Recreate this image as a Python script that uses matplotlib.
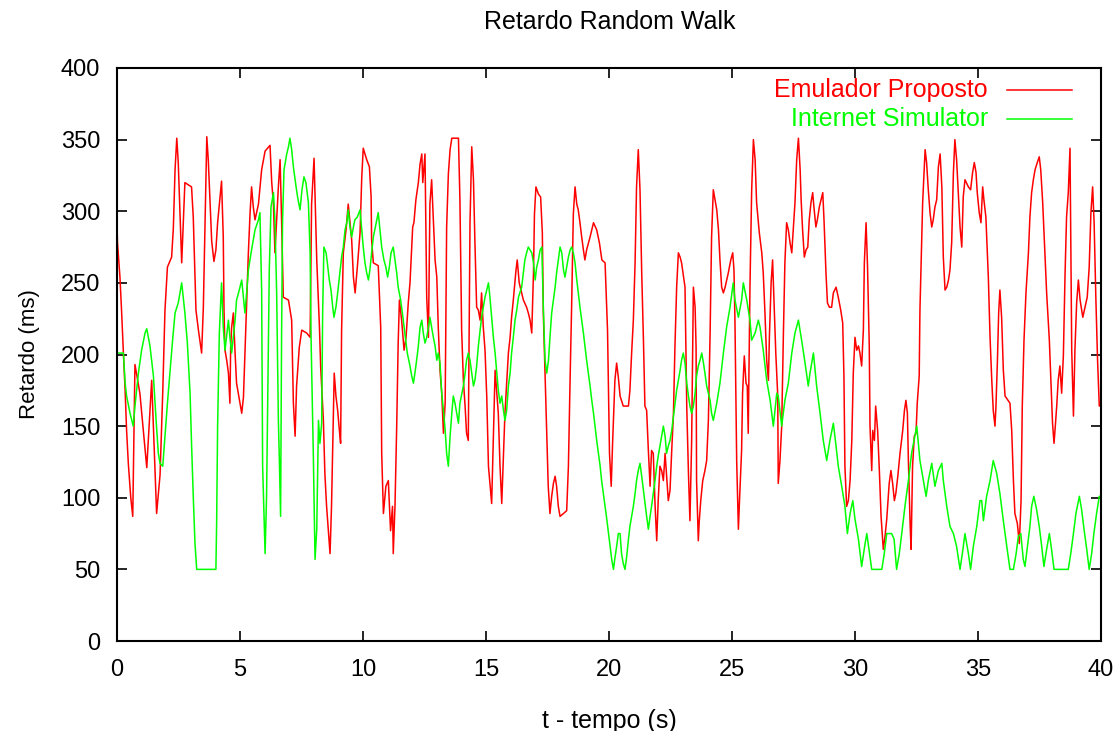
import matplotlib
matplotlib.use("Agg")
import matplotlib.pyplot as plt
from matplotlib import font_manager

# delay samples (t in s, delay in ms) for the proposed emulator
emulador = [
    (0.00, 292), (0.02, 278), (0.12, 254), (0.19, 229), (0.26, 201), (0.33, 175), (0.39, 147), (0.46, 124),
    (0.56, 100), (0.64, 87), (0.73, 193), (0.93, 173), (1.21, 121), (1.41, 182), (1.61, 89), (1.75, 116),
    (1.86, 174), (1.95, 231), (2.05, 261), (2.22, 268), (2.29, 288), (2.36, 329), (2.43, 351), (2.49, 334),
    (2.56, 299), (2.63, 264), (2.76, 320), (3.03, 317), (3.10, 296), (3.21, 231), (3.31, 217), (3.44, 201),
    (3.51, 233), (3.65, 352), (3.71, 336), (3.78, 308), (3.85, 279), (3.94, 265), (4.02, 273), (4.09, 292),
    (4.19, 310), (4.25, 321), (4.32, 282), (4.35, 231), (4.39, 203), (4.46, 196), (4.53, 187), (4.59, 166),
    (4.62, 205), (4.66, 219), (4.73, 229), (4.80, 201), (4.86, 180), (4.93, 173), (5.07, 159), (5.14, 170),
    (5.20, 201), (5.27, 236), (5.34, 271), (5.41, 299), (5.47, 317), (5.54, 303), (5.61, 294), (5.75, 305),
    (5.88, 329), (6.02, 342), (6.22, 346), (6.29, 320), (6.36, 305), (6.42, 271), (6.56, 317), (6.63, 336),
    (6.69, 294), (6.76, 240), (6.97, 238), (7.10, 224), (7.17, 166), (7.24, 143), (7.30, 178), (7.41, 205),
    (7.51, 217), (7.71, 215), (7.85, 212), (7.91, 305), (8.01, 337), (8.05, 312), (8.12, 266), (8.23, 219),
    (8.28, 191), (8.39, 154), (8.45, 117), (8.52, 94), (8.66, 61), (8.72, 94), (8.79, 154), (8.83, 187),
    (8.90, 171), (8.97, 161), (9.04, 147), (9.09, 138), (9.13, 217), (9.20, 271), (9.31, 287), (9.40, 305),
    (9.54, 280), (9.61, 254), (9.68, 243), (9.77, 261), (9.88, 285), (9.95, 324), (10.01, 344), (10.15, 336),
    (10.26, 331), (10.33, 310), (10.35, 280), (10.42, 264), (10.62, 262), (10.72, 219), (10.76, 131), (10.83, 89),
    (10.93, 108), (11.03, 112), (11.12, 77), (11.20, 94), (11.23, 61), (11.30, 94), (11.37, 150), (11.43, 208),
    (11.48, 238), (11.57, 224), (11.67, 203), (11.75, 212), (11.84, 236), (11.91, 250), (12.02, 289), (12.07, 292),
    (12.15, 308), (12.25, 320), (12.32, 333), (12.39, 340), (12.43, 320), (12.52, 340), (12.59, 240), (12.66, 212),
    (12.72, 305), (12.79, 322), (12.86, 294), (12.93, 266), (13.00, 254), (13.06, 219), (13.13, 189), (13.20, 173),
    (13.27, 145), (13.34, 166), (13.40, 289), (13.47, 326), (13.54, 343), (13.61, 351), (13.88, 351), (13.94, 308),
    (14.01, 217), (14.08, 182), (14.15, 164), (14.21, 145), (14.28, 140), (14.35, 292), (14.42, 345), (14.49, 322),
    (14.55, 278), (14.62, 233), (14.69, 231), (14.76, 224), (14.82, 243), (14.89, 219), (14.96, 203), (15.03, 171),
    (15.10, 122), (15.23, 96), (15.37, 189), (15.44, 173), (15.50, 159), (15.57, 122), (15.64, 96), (15.71, 131),
    (15.77, 159), (15.84, 180), (15.91, 201), (15.98, 212), (16.04, 226), (16.11, 238), (16.22, 259), (16.27, 266),
    (16.35, 250), (16.42, 245), (16.52, 238), (16.65, 233), (16.72, 229), (16.79, 224), (16.86, 215), (16.93, 257),
    (16.97, 298), (17.03, 317), (17.13, 312), (17.22, 310), (17.29, 285), (17.33, 229), (17.40, 187), (17.47, 143),
    (17.53, 108), (17.60, 89), (17.67, 101), (17.74, 110), (17.81, 115), (17.87, 108), (17.94, 94), (18.01, 87),
    (18.15, 89), (18.28, 91), (18.35, 122), (18.42, 184), (18.48, 233), (18.55, 298), (18.62, 317), (18.69, 305),
    (18.75, 301), (18.82, 292), (18.89, 282), (18.96, 273), (19.02, 266), (19.09, 273), (19.23, 282), (19.37, 292),
    (19.50, 287), (19.61, 278), (19.71, 266), (19.84, 264), (19.94, 217), (20.02, 131), (20.09, 108), (20.15, 140),
    (20.24, 182), (20.31, 194), (20.38, 184), (20.45, 171), (20.58, 164), (20.79, 164), (20.85, 175), (20.92, 201),
    (20.99, 224), (21.06, 264), (21.12, 317), (21.19, 343), (21.26, 315), (21.33, 257), (21.40, 210), (21.46, 164),
    (21.53, 161), (21.60, 133), (21.67, 108), (21.73, 133), (21.80, 131), (21.87, 96), (21.94, 70), (22.00, 98),
    (22.07, 122), (22.14, 119), (22.21, 112), (22.28, 131), (22.41, 98), (22.48, 105), (22.55, 133), (22.62, 159),
    (22.68, 205), (22.75, 247), (22.82, 271), (22.89, 268), (22.95, 264), (23.09, 247), (23.16, 164), (23.23, 117),
    (23.29, 84), (23.36, 140), (23.43, 247), (23.50, 233), (23.54, 205), (23.56, 112), (23.63, 70), (23.67, 84),
    (23.73, 98), (23.81, 112), (23.90, 119), (23.97, 126), (24.04, 154), (24.11, 215), (24.17, 282), (24.24, 315),
    (24.31, 308), (24.38, 301), (24.45, 287), (24.51, 266), (24.58, 247), (24.65, 243), (24.72, 247), (24.85, 257),
    (24.95, 266), (25.03, 271), (25.08, 259), (25.12, 224), (25.19, 126), (25.26, 78), (25.30, 96), (25.39, 133),
    (25.43, 173), (25.50, 199), (25.57, 180), (25.62, 178), (25.66, 145), (25.73, 247), (25.80, 315), (25.87, 350),
    (25.94, 336), (26.00, 306), (26.11, 285), (26.21, 271), (26.27, 257), (26.34, 229), (26.41, 196), (26.48, 182),
    (26.52, 212), (26.59, 250), (26.65, 266), (26.71, 236), (26.78, 201), (26.86, 171), (26.88, 110), (26.95, 126),
    (27.02, 150), (27.09, 215), (27.15, 264), (27.22, 292), (27.29, 287), (27.36, 278), (27.43, 271), (27.49, 287),
    (27.56, 306), (27.63, 336), (27.70, 351), (27.77, 329), (27.81, 308), (27.87, 287), (27.94, 268), (28.01, 273),
    (28.08, 275), (28.14, 294), (28.21, 306), (28.28, 313), (28.33, 303), (28.41, 289), (28.47, 294), (28.55, 303),
    (28.62, 308), (28.69, 313), (28.74, 294), (28.82, 257), (28.88, 236), (28.96, 233), (29.05, 233), (29.12, 243),
    (29.23, 247), (29.32, 240), (29.42, 231), (29.50, 222), (29.55, 185), (29.59, 122), (29.66, 94), (29.73, 98),
    (29.80, 112), (29.87, 140), (29.93, 187), (30.00, 212), (30.07, 203), (30.14, 206), (30.20, 201), (30.27, 192),
    (30.34, 217), (30.38, 264), (30.45, 292), (30.51, 261), (30.58, 206), (30.61, 150), (30.68, 119), (30.72, 147),
    (30.79, 140), (30.84, 164), (30.92, 147), (30.99, 119), (31.06, 87), (31.15, 64), (31.22, 73), (31.29, 85),
    (31.39, 110), (31.46, 119), (31.53, 110), (31.60, 98), (31.66, 103), (31.74, 115), (31.83, 131), (31.94, 147),
    (32.01, 161), (32.07, 168), (32.13, 159), (32.17, 126), (32.24, 82), (32.28, 64), (32.34, 122), (32.41, 143),
    (32.48, 145), (32.53, 166), (32.61, 185), (32.64, 231), (32.75, 306), (32.85, 343), (32.91, 334), (32.98, 315),
    (33.05, 299), (33.12, 289), (33.18, 294), (33.25, 303), (33.32, 308), (33.39, 331), (33.46, 340), (33.53, 317),
    (33.59, 268), (33.66, 245), (33.73, 247), (33.80, 252), (33.86, 259), (33.93, 278), (34.00, 327), (34.06, 350),
    (34.13, 336), (34.20, 313), (34.27, 289), (34.34, 275), (34.40, 310), (34.47, 322), (34.61, 317), (34.70, 315),
    (34.78, 327), (34.85, 334), (34.92, 327), (34.97, 313), (35.05, 299), (35.12, 292), (35.19, 317), (35.24, 308),
    (35.32, 296), (35.42, 254), (35.49, 212), (35.56, 182), (35.62, 161), (35.69, 150), (35.73, 164), (35.79, 196),
    (35.84, 229), (35.89, 245), (35.96, 226), (36.03, 189), (36.10, 171), (36.30, 166), (36.37, 147), (36.44, 112),
    (36.50, 89), (36.60, 82), (36.68, 68), (36.75, 98), (36.80, 164), (36.87, 210), (36.95, 243), (37.05, 271),
    (37.11, 296), (37.18, 313), (37.25, 322), (37.32, 329), (37.41, 334), (37.49, 338), (37.55, 329), (37.63, 306),
    (37.70, 278), (37.79, 243), (37.90, 210), (37.97, 178), (38.03, 152), (38.09, 138), (38.13, 147), (38.20, 164),
    (38.26, 182), (38.33, 192), (38.40, 173), (38.47, 199), (38.54, 257), (38.60, 296), (38.67, 313), (38.74, 344),
    (38.81, 203), (38.88, 157), (38.94, 203), (39.01, 236), (39.08, 252), (39.15, 238), (39.26, 226), (39.35, 233),
    (39.44, 240), (39.52, 261), (39.59, 299), (39.66, 317), (39.72, 292), (39.79, 240), (39.86, 196), (39.93, 164),
    (40.00, 165),
]

# delay samples for the Internet Simulator
simulador = [
    (0.00, 201), (0.26, 201), (0.33, 180), (0.39, 171), (0.53, 159), (0.66, 150), (0.73, 164), (0.87, 187),
    (1.00, 203), (1.14, 215), (1.21, 218), (1.34, 206), (1.48, 185), (1.59, 154), (1.68, 131), (1.75, 124),
    (1.86, 122), (1.95, 143), (2.05, 166), (2.15, 187), (2.26, 210), (2.36, 229), (2.49, 236), (2.63, 250),
    (2.76, 229), (2.86, 208), (2.97, 173), (3.03, 138), (3.10, 101), (3.17, 68), (3.24, 50), (4.02, 50),
    (4.05, 82), (4.09, 150), (4.16, 215), (4.25, 250), (4.32, 219), (4.39, 203), (4.53, 224), (4.59, 212),
    (4.66, 201), (4.80, 224), (4.86, 238), (4.97, 245), (5.07, 252), (5.20, 229), (5.27, 243), (5.34, 259),
    (5.47, 273), (5.61, 287), (5.75, 294), (5.81, 299), (5.88, 245), (5.92, 122), (6.02, 61), (6.08, 101),
    (6.15, 201), (6.19, 259), (6.26, 303), (6.36, 313), (6.42, 294), (6.49, 243), (6.56, 154), (6.60, 126),
    (6.65, 87), (6.69, 212), (6.73, 294), (6.79, 329), (6.90, 340), (6.97, 345), (7.03, 351), (7.10, 343),
    (7.17, 331), (7.28, 317), (7.34, 310), (7.44, 301), (7.52, 315), (7.60, 324), (7.68, 320), (7.78, 306),
    (7.85, 271), (7.89, 210), (7.98, 131), (8.05, 57), (8.12, 78), (8.19, 154), (8.25, 138), (8.32, 152),
    (8.36, 229), (8.41, 275), (8.50, 271), (8.55, 264), (8.63, 252), (8.70, 245), (8.77, 233), (8.82, 226),
    (8.90, 233), (8.97, 243), (9.04, 254), (9.13, 268), (9.20, 275), (9.27, 287), (9.34, 292), (9.40, 301),
    (9.47, 289), (9.54, 282), (9.61, 289), (9.67, 294), (9.77, 296), (9.88, 301), (9.95, 287), (10.01, 275),
    (10.08, 264), (10.15, 257), (10.22, 252), (10.28, 259), (10.35, 271), (10.42, 282), (10.56, 294), (10.62, 299),
    (10.69, 287), (10.76, 275), (10.85, 266), (10.93, 261), (11.00, 254), (11.07, 261), (11.14, 271), (11.23, 275),
    (11.30, 266), (11.37, 257), (11.43, 247), (11.53, 238), (11.60, 229), (11.67, 219), (11.73, 210), (11.80, 201),
    (11.91, 192), (11.98, 185), (12.05, 180), (12.11, 187), (12.18, 196), (12.25, 206), (12.32, 219), (12.39, 224),
    (12.45, 215), (12.52, 208), (12.59, 212), (12.66, 219), (12.72, 226), (12.79, 219), (12.86, 212), (12.93, 206),
    (13.00, 196), (13.06, 201), (13.13, 194), (13.20, 173), (13.27, 161), (13.34, 147), (13.40, 131), (13.47, 122),
    (13.54, 143), (13.61, 159), (13.67, 171), (13.74, 166), (13.81, 159), (13.88, 152), (13.94, 166), (14.08, 178),
    (14.15, 187), (14.21, 196), (14.28, 201), (14.35, 196), (14.42, 187), (14.49, 178), (14.55, 182), (14.62, 192),
    (14.69, 206), (14.76, 217), (14.82, 226), (14.89, 233), (14.96, 240), (15.03, 245), (15.10, 250), (15.16, 240),
    (15.23, 226), (15.30, 212), (15.37, 201), (15.44, 187), (15.50, 175), (15.57, 166), (15.64, 171), (15.71, 161),
    (15.77, 154), (15.84, 161), (15.91, 178), (15.98, 187), (16.04, 201), (16.11, 212), (16.18, 224), (16.25, 231),
    (16.32, 240), (16.45, 247), (16.52, 257), (16.58, 266), (16.65, 271), (16.72, 275), (16.86, 271), (16.93, 264),
    (17.00, 252), (17.06, 261), (17.13, 266), (17.20, 273), (17.27, 275), (17.33, 233), (17.40, 196), (17.47, 187),
    (17.54, 196), (17.60, 212), (17.67, 229), (17.74, 238), (17.81, 247), (17.87, 257), (17.94, 266), (18.01, 275),
    (18.08, 271), (18.15, 259), (18.21, 254), (18.28, 261), (18.35, 268), (18.42, 273), (18.48, 275), (18.55, 271),
    (18.62, 264), (18.69, 252), (18.75, 243), (18.82, 233), (18.89, 224), (18.96, 215), (19.02, 206), (19.09, 196),
    (19.16, 187), (19.23, 178), (19.30, 168), (19.37, 159), (19.43, 150), (19.50, 140), (19.57, 131), (19.64, 122),
    (19.70, 112), (19.77, 103), (19.84, 94), (19.91, 85), (19.98, 75), (20.04, 66), (20.11, 57), (20.18, 50),
    (20.25, 59), (20.31, 66), (20.38, 75), (20.45, 75), (20.51, 61), (20.58, 54), (20.65, 50), (20.72, 59),
    (20.79, 71), (20.85, 80), (20.92, 87), (20.99, 94), (21.06, 103), (21.12, 112), (21.19, 119), (21.26, 124),
    (21.33, 115), (21.40, 105), (21.46, 96), (21.53, 87), (21.60, 78), (21.67, 87), (21.73, 94), (21.80, 103),
    (21.87, 112), (21.94, 122), (22.00, 129), (22.07, 136), (22.14, 143), (22.21, 150), (22.28, 143), (22.34, 131),
    (22.41, 136), (22.48, 140), (22.55, 147), (22.62, 157), (22.68, 166), (22.75, 175), (22.82, 182), (22.89, 189),
    (22.95, 196), (23.02, 201), (23.09, 194), (23.16, 180), (23.23, 171), (23.29, 164), (23.36, 159), (23.43, 164),
    (23.50, 173), (23.56, 185), (23.63, 192), (23.70, 196), (23.77, 201), (23.84, 194), (23.90, 187), (23.97, 178),
    (24.04, 173), (24.11, 168), (24.17, 159), (24.24, 154), (24.38, 166), (24.51, 180), (24.65, 201), (24.78, 219),
    (24.92, 233), (25.05, 250), (25.12, 238), (25.26, 226), (25.39, 238), (25.46, 250), (25.60, 238), (25.73, 224),
    (25.80, 210), (25.94, 215), (26.07, 224), (26.14, 219), (26.27, 203), (26.41, 182), (26.55, 168), (26.68, 150),
    (26.82, 173), (26.88, 171), (27.02, 150), (27.15, 168), (27.29, 180), (27.43, 201), (27.56, 215), (27.70, 224),
    (27.83, 210), (27.97, 194), (28.10, 178), (28.17, 187), (28.31, 201), (28.44, 178), (28.58, 159), (28.71, 140),
    (28.85, 126), (28.98, 140), (29.12, 152), (29.23, 136), (29.32, 122), (29.46, 108), (29.59, 94), (29.69, 75),
    (29.80, 89), (29.91, 98), (30.00, 85), (30.14, 71), (30.27, 52), (30.41, 68), (30.48, 75), (30.59, 61),
    (30.68, 50), (31.09, 50), (31.19, 61), (31.29, 75), (31.49, 75), (31.59, 71), (31.69, 50), (31.80, 61),
    (31.90, 75), (32.03, 94), (32.17, 112), (32.30, 131), (32.51, 150), (32.64, 126), (32.78, 112), (32.89, 101),
    (32.98, 112), (33.12, 124), (33.25, 108), (33.39, 119), (33.53, 124), (33.59, 112), (33.73, 94), (33.86, 80),
    (34.00, 75), (34.13, 66), (34.27, 50), (34.38, 63), (34.47, 75), (34.61, 61), (34.70, 50), (34.81, 66),
    (34.95, 80), (35.08, 98), (35.15, 98), (35.22, 84), (35.35, 101), (35.49, 112), (35.62, 126), (35.76, 117),
    (35.89, 103), (36.03, 84), (36.17, 66), (36.30, 50), (36.44, 50), (36.55, 61), (36.64, 73), (36.74, 75),
    (36.84, 57), (36.91, 52), (37.01, 66), (37.11, 80), (37.18, 94), (37.27, 101), (37.38, 92), (37.49, 80),
    (37.59, 66), (37.68, 52), (37.79, 64), (37.90, 75), (37.99, 64), (38.09, 50), (38.67, 50), (38.77, 61),
    (38.88, 75), (38.98, 89), (39.12, 101), (39.21, 92), (39.31, 78), (39.42, 64), (39.52, 50), (39.62, 61),
    (39.71, 75), (39.82, 89), (39.93, 101), (40.00, 101),
]

labels = ["Emulador Proposto", "Internet Simulator"]
colors = ["#ff0000", "#00ff00"]
xticks = [0, 5, 10, 15, 20, 25, 30, 35, 40]
yticks = [0, 50, 100, 150, 200, 250, 300, 350, 400]

installed = {f.name for f in font_manager.fontManager.ttflist}
family = "Liberation Sans Narrow" if "Liberation Sans Narrow" in installed else "Liberation Sans"
plt.rcParams["font.family"] = [family, "DejaVu Sans"]

fig = plt.figure(figsize=(11.19, 7.31), dpi=100)
ax = fig.add_axes([117 / 1119, 90 / 731, 984 / 1119, 573 / 731])

for data, lab, col in zip([emulador, simulador], labels, colors):
    t, v = zip(*data)
    ax.plot(t, v, color=col, lw=1.1, label=lab)

ax.set_xlim(0, 40)
ax.set_ylim(0, 400)
ax.set_xticks(xticks)
ax.set_yticks(yticks)
ax.tick_params(direction="in", top=True, right=True, length=7, width=1.2,
               labelsize=17)
ax.tick_params(axis="x", pad=13)
ax.tick_params(axis="y", pad=12)
for s in ax.spines.values():
    s.set_linewidth(1.5)

ax.set_xlabel("t - tempo (s)", fontsize=18, labelpad=20)
ax.set_ylabel("Retardo (ms)", fontsize=16, labelpad=15)
fig.text(610 / 1119, 1 - 22 / 731, "Retardo Random Walk", ha="center", va="center",
         fontsize=18)

# key drawn gnuplot style: right-justified text followed by a short sample line
for i, line in enumerate(ax.get_lines()):
    yk = 0.9616 - i * 0.0506
    ax.text(0.885, yk, line.get_label(), color=line.get_color(), ha="right", va="center",
            fontsize=18, transform=ax.transAxes)
    ax.plot([0.9045, 0.9705], [yk, yk], color=line.get_color(), lw=1.1, transform=ax.transAxes)

fig.savefig("out.png", dpi=100)
